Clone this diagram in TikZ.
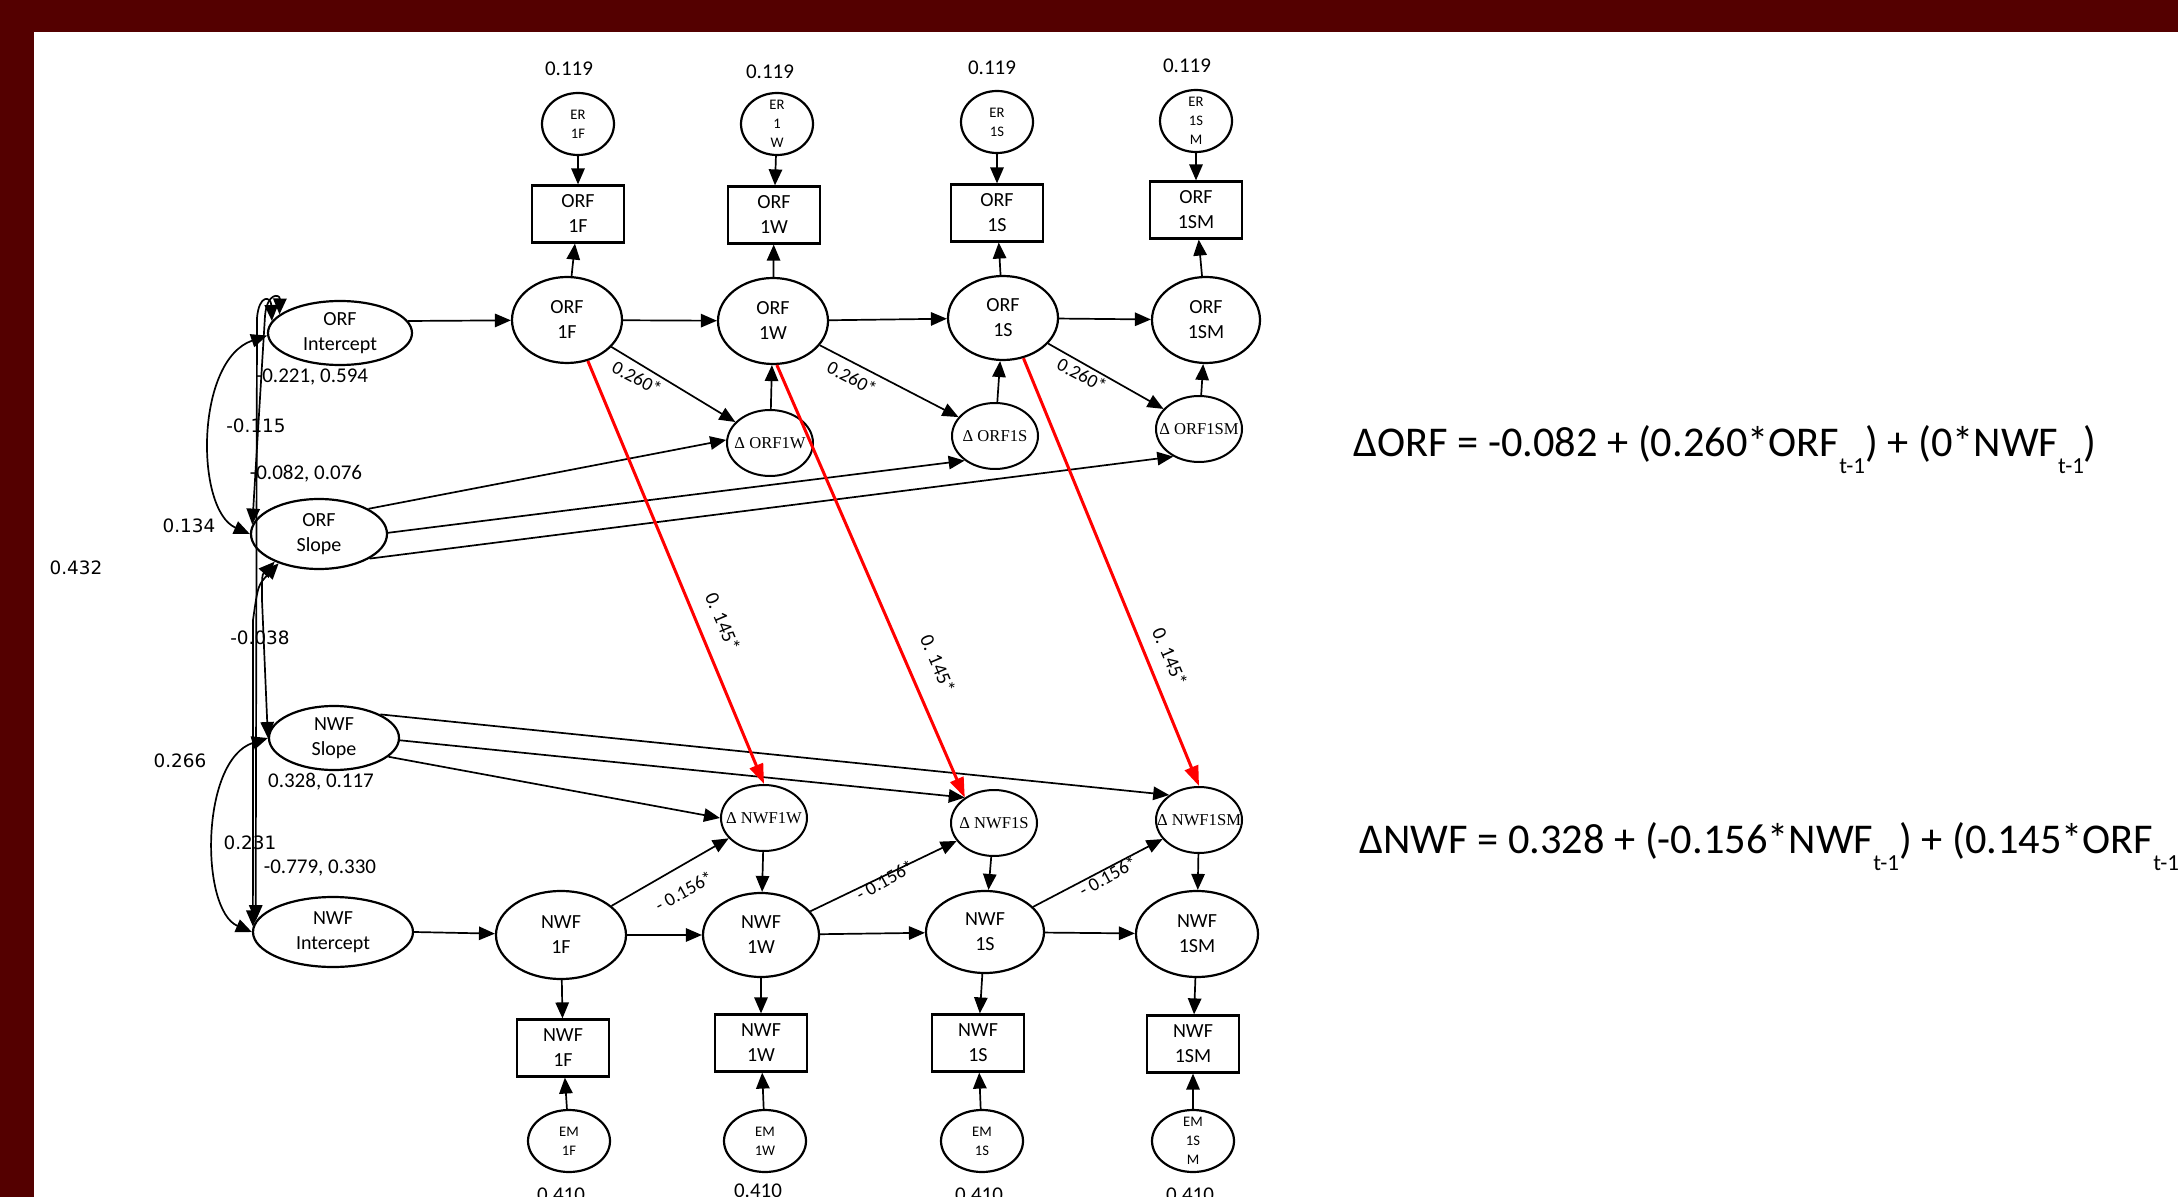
\documentclass[tikz,border=0pt]{standalone}
\usepackage{fontspec}
\setmainfont{Carlito}
\newfontfamily\dsans{DejaVu Sans}
\newfontfamily\dserif{Liberation Serif}
\usetikzlibrary{arrows.meta,shapes.geometric}
\definecolor{bgred}{RGB}{84,0,0}
\newcommand\tsub[1]{\raisebox{-8.5pt}{\fontsize{11.5}{12}\selectfont #1}}
\begin{document}
\begin{tikzpicture}[x=0.5pt,y=-0.5pt,
  lat/.style={draw, ellipse, line width=1.1pt, inner sep=-3pt, align=center, font=\fontsize{10}{12.5}\selectfont},
  erc/.style={draw, ellipse, line width=1.1pt, inner sep=-5pt, align=center, font=\fontsize{7.3}{9.5}\selectfont, minimum width=36pt, minimum height=31pt},
  emc/.style={erc, minimum width=41pt},
  dlt/.style={draw, ellipse, line width=1pt, inner sep=-6pt, align=center, font=\dserif\fontsize{8.3}{9}\selectfont, minimum width=43pt, minimum height=33pt},
  obs/.style={draw, rectangle, line width=1.1pt, inner sep=0pt, align=center, font=\fontsize{10}{12.5}\selectfont, minimum width=46pt, minimum height=28.5pt},
  arr/.style={-{Triangle[length=8pt,width=6.7pt]}, line width=0.85pt},
  cov/.style={{Triangle[length=8pt,width=6.7pt]}-{Triangle[length=8pt,width=6.7pt]}, line width=0.85pt},
  rarr/.style={-{Triangle[length=10pt,width=7pt]}, line width=1.5pt, red},
  num/.style={font=\fontsize{10.5}{12}\selectfont, inner sep=0pt},
  vnum/.style={font=\dsans\fontsize{9.2}{11}\selectfont, inner sep=0pt},
  coef/.style={font=\fontsize{9.5}{11}\selectfont, inner sep=0pt},
  eqn/.style={font=\fontsize{21.2}{26}\selectfont, inner sep=0pt, anchor=base west}
]
\useasboundingbox (0,0) rectangle (2178,1197);
\clip (0,0) rectangle (2178,1197);
\fill[bgred] (0,0) rectangle (2178,1197);
\fill[white] (34,32) rectangle (2178,1197);

% ---- top row: ORF ----
\node[num] (v1) at (569,69) {0.119};
\node[num] (v2) at (770,72) {0.119};
\node[num] (v3) at (992,68) {0.119};
\node[num] (v4) at (1187,66) {0.119};

\node[erc] (er1) at (578,124) {ER\\1F};
\node[erc] (er2) at (777,124) {ER\\1\\W};
\node[erc] (er3) at (997,122) {ER\\1S};
\node[erc] (er4) at (1196,121) {ER\\1S\\M};

\node[obs] (ob1) at (578,214) {ORF\\1F};
\node[obs] (ob2) at (774,215) {ORF\\1W};
\node[obs] (ob3) at (997,213) {ORF\\1S};
\node[obs] (ob4) at (1196,210) {ORF\\1SM};

\node[lat, minimum width=55pt, minimum height=43pt] (o1) at (567,320) {ORF\\1F};
\node[lat, minimum width=55pt, minimum height=43pt] (o2) at (773,321) {ORF\\1W};
\node[lat, minimum width=55pt, minimum height=42pt] (o3) at (1003,318) {ORF\\1S};
\node[lat, minimum width=54pt, minimum height=43pt] (o4) at (1206,320) {ORF\\1SM};

\node[dlt] (do2) at (770,443) {Δ ORF1W};
\node[dlt] (do3) at (995,436) {Δ ORF1S};
\node[dlt] (do4) at (1199,429) {Δ ORF1SM};

% ---- left latent growth factors ----
\node[lat, minimum width=72pt, minimum height=32pt] (orfI) at (340,333) {ORF\\Intercept};
\node[lat, minimum width=68pt, minimum height=35pt] (orfS) at (319,534) {ORF\\Slope};
\node[lat, minimum width=65pt, minimum height=32pt] (nwfS) at (334,738) {NWF\\Slope};
\node[lat, minimum width=80pt, minimum height=35pt] (nwfI) at (333,932) {NWF\\Intercept};

% ---- bottom row: NWF ----
\node[dlt] (dn2) at (764,818) {Δ NWF1W};
\node[dlt] (dn3) at (994,823) {Δ NWF1S};
\node[dlt] (dn4) at (1199,820) {Δ NWF1SM};

\node[lat, minimum width=65pt, minimum height=44pt] (n1) at (561,935) {NWF\\1F};
\node[lat, minimum width=58pt, minimum height=42pt] (n2) at (761,935) {NWF\\1W};
\node[lat, minimum width=59pt, minimum height=41pt] (n3) at (985,932) {NWF\\1S};
\node[lat, minimum width=61pt, minimum height=43pt] (n4) at (1197,934) {NWF\\1SM};

\node[obs] (nb1) at (563,1048) {NWF\\1F};
\node[obs] (nb2) at (761,1043) {NWF\\1W};
\node[obs] (nb3) at (978,1043) {NWF\\1S};
\node[obs] (nb4) at (1193,1044) {NWF\\1SM};

\node[emc] (em1) at (569,1141) {EM\\1F};
\node[emc] (em2) at (765,1141) {EM\\1W};
\node[emc] (em3) at (982,1141) {EM\\1S};
\node[emc] (em4) at (1193,1141) {EM\\1S\\M};

\node[num, anchor=base] (w1) at (561,1201) {0.410};
\node[num, anchor=base] (w2) at (758,1197) {0.410};
\node[num, anchor=base] (w3) at (979,1201) {0.410};
\node[num, anchor=base] (w4) at (1190,1201) {0.410};

% ---- connectors: ORF part ----
\foreach \i in {1,...,4} {
  \draw[arr] (er\i) -- (ob\i);
  \draw[arr] (o\i) -- (ob\i);
}
\draw[arr] (orfI.10) -- (o1);
\draw[arr] (o1) -- (o2);
\draw[arr] (o2) -- (o3);
\draw[arr] (o3) -- (o4);
\draw[arr] (o1) -- (do2);
\draw[arr] (o2) -- (do3);
\draw[arr] (o3) -- (do4);
\draw[arr] (do2) -- (o2);
\draw[arr] (do3) -- (o3);
\draw[arr] (do4) -- (o4);
\draw[arr] (orfS.27) -- (do2.176);
\draw[arr] (orfS.1) -- (do3.219);
\draw[arr] (orfS.-26) -- (do4.227);

% ---- connectors: NWF part ----
\draw[arr] (nwfI.east) -- (n1);
\draw[arr] (n1) -- (n2);
\draw[arr] (n2) -- (n3);
\draw[arr] (n3) -- (n4);
\draw[arr] (n1) -- (dn2);
\draw[arr] (n2) -- (dn3);
\draw[arr] (n3) -- (dn4);
\foreach \i in {2,3,4} { \draw[arr] (dn\i) -- (n\i); }
\foreach \i in {1,...,4} {
  \draw[arr] (n\i) -- (nb\i);
  \draw[arr] (em\i) -- (nb\i);
}
\draw[arr] (nwfS.27) -- (dn4.140);
\draw[arr] (nwfS.-2) -- (dn3.139);
\draw[arr] (nwfS.-19) -- (dn2.180);

% ---- cross-lagged (red) ----
\draw[rarr] (o1.-63) -- (dn2.north);
\draw[rarr] (o2.-85) -- (dn3.139);
\draw[rarr] (o3.-63) -- (dn4.north);

% ---- covariances ----
\draw[cov] (orfS.west) .. controls (195,510) and (195,360) .. (orfI.182);
\draw[cov] (nwfS.west) .. controls (200,760) and (200,910) .. (nwfI.west);
\draw[cov] (orfI.170) .. controls (271,296) and (259,294) .. (257,318) -- (nwfI.172);
\draw[cov] (orfI.163) .. controls (280,294) and (267,292) .. (265,316) -- (orfS.172);
\draw[cov] (orfS.212) .. controls (262,575) .. (262,600) -- (nwfS.west);
\draw[cov] (orfS.216) .. controls (258,585) .. (253,620) -- (nwfI.176);

% ---- coefficient labels ----
\node[coef, rotate=-28] (k1) at (637,378) {0.260*};
\node[coef, rotate=-28] (k2) at (852,378) {0.260*};
\node[coef, rotate=-28] (k3) at (1082,375) {0.260*};
\node[coef, rotate=29] (m1) at (684,891) {- 0.156*};
\node[coef, rotate=29] (m2) at (885,880) {- 0.156*};
\node[coef, rotate=29] (m3) at (1108,876) {- 0.156*};
\node[coef, font=\fontsize{10}{12}\selectfont, rotate=-67] (r1) at (723,622) {0. 145*};
\node[coef, font=\fontsize{10}{12}\selectfont, rotate=-67] (r2) at (938,664) {0. 145*};
\node[coef, font=\fontsize{10}{12}\selectfont, rotate=-67] (r3) at (1170,657) {0. 145*};

\node[num] (a1) at (312,377) {-0.221, 0.594};
\node[vnum] (a2) at (256,426) {-0.115};
\node[num] (a3) at (306,474) {-0.082, 0.076};
\node[vnum] (a4) at (189,526) {0.134};
\node[vnum] (a5) at (76,568) {0.432};
\node[vnum] (a6) at (260,638) {-0.038};
\node[vnum] (a7) at (180,761) {0.266};
\node[num] (a8) at (321,782) {0.328, 0.117};
\node[vnum] (a9) at (250,843) {0.231};
\node[num] (a10) at (320,868) {-0.779, 0.330};

% ---- equations ----
\node[eqn] (eq1) at (1353,457) {ΔORF = -0.082 + (0.260*ORF\tsub{t-1}) + (0*NWF\tsub{t-1})};
\node[eqn] (eq2) at (1359,853) {ΔNWF = 0.328 + (-0.156*NWF\tsub{t-1}) + (0.145*ORF\tsub{t-1})};
\end{tikzpicture}
\end{document}
